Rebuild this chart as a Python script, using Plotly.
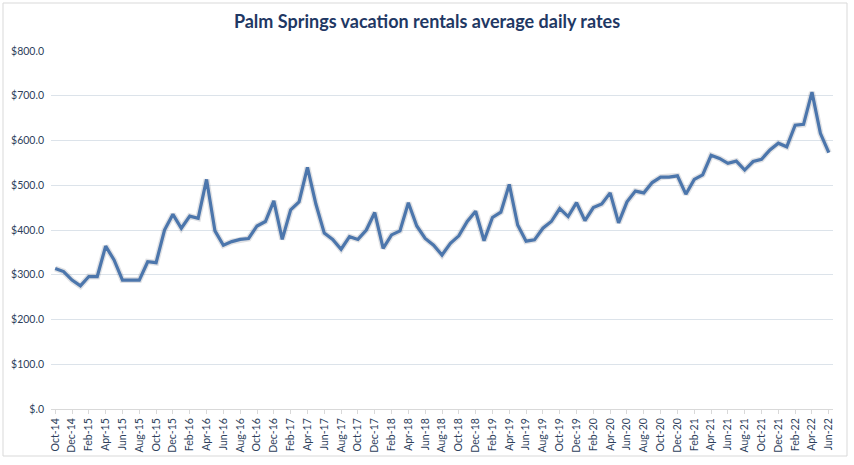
import plotly.graph_objects as go

months = [
    "Oct-14", "Nov-14", "Dec-14",
    "Jan-15", "Feb-15", "Mar-15", "Apr-15", "May-15", "Jun-15", "Jul-15", "Aug-15", "Sep-15", "Oct-15", "Nov-15", "Dec-15",
    "Jan-16", "Feb-16", "Mar-16", "Apr-16", "May-16", "Jun-16", "Jul-16", "Aug-16", "Sep-16", "Oct-16", "Nov-16", "Dec-16",
    "Jan-17", "Feb-17", "Mar-17", "Apr-17", "May-17", "Jun-17", "Jul-17", "Aug-17", "Sep-17", "Oct-17", "Nov-17", "Dec-17",
    "Jan-18", "Feb-18", "Mar-18", "Apr-18", "May-18", "Jun-18", "Jul-18", "Aug-18", "Sep-18", "Oct-18", "Nov-18", "Dec-18",
    "Jan-19", "Feb-19", "Mar-19", "Apr-19", "May-19", "Jun-19", "Jul-19", "Aug-19", "Sep-19", "Oct-19", "Nov-19", "Dec-19",
    "Jan-20", "Feb-20", "Mar-20", "Apr-20", "May-20", "Jun-20", "Jul-20", "Aug-20", "Sep-20", "Oct-20", "Nov-20", "Dec-20",
    "Jan-21", "Feb-21", "Mar-21", "Apr-21", "May-21", "Jun-21", "Jul-21", "Aug-21", "Sep-21", "Oct-21", "Nov-21", "Dec-21",
    "Jan-22", "Feb-22", "Mar-22", "Apr-22", "May-22", "Jun-22",
]

rates = [
    314, 307, 288,
    275, 296, 296, 364, 333, 288, 288, 288, 329, 327, 400, 435,
    404, 431, 426, 513, 398, 366, 374, 379, 381, 409, 419, 465,
    379, 445, 463, 540, 458, 393, 379, 357, 385, 379, 400, 439,
    359, 389, 398, 461, 409, 381, 366, 344, 370, 387, 419, 442,
    376, 428, 440, 502, 411, 375, 378, 404, 419, 448, 430, 461,
    421, 450, 458, 483, 416, 463, 487, 483, 506, 518, 518, 521,
    480, 513, 523, 567, 560, 549, 554, 534, 553, 558, 579, 594,
    586, 634, 636, 708, 616, 573,
]

x_tick_labels = months[::2]

y_tick_values = [0, 100, 200, 300, 400, 500, 600, 700, 800]
y_tick_labels = ["$.0", "$100.0", "$200.0", "$300.0", "$400.0", "$500.0", "$600.0", "$700.0", "$800.0"]

title_text = "Palm Springs vacation rentals average daily rates"

fig = go.Figure()
# soft shadow under the line
fig.add_trace(go.Scatter(
    x=months, y=rates, mode="lines",
    line=dict(color="rgba(60,70,90,0.16)", width=6),
    hoverinfo="skip", showlegend=False,
))
fig.add_trace(go.Scatter(
    x=months, y=rates, mode="lines",
    line=dict(color="#4C76AC", width=3.2),
    showlegend=False,
))

fig.update_layout(
    width=854, height=465,
    margin=dict(l=51, r=21, t=51, b=56),
    paper_bgcolor="white", plot_bgcolor="white",
    title=dict(
        text="<b>" + title_text + "</b>",
        x=0.5, xref="container", xanchor="center",
        y=0.953, yref="container", yanchor="middle",
        font=dict(family="Lato, Open Sans, sans-serif", size=18, color="#1F3864"),
    ),
    font=dict(family="Lato, Open Sans, sans-serif"),
)

fig.update_xaxes(
    type="category",
    categoryorder="array", categoryarray=months,
    range=[-0.5, len(months) - 0.5],
    tickmode="array", tickvals=x_tick_labels, ticktext=x_tick_labels,
    tickangle=-90,
    tickfont=dict(size=10.5, color="#2E3F5C"),
    showgrid=False,
    showline=True, linecolor="#D9D9D9", linewidth=1,
    ticks="outside", ticklen=4, tickcolor="#D9D9D9",
    zeroline=False,
)

fig.update_yaxes(
    range=[0, 800],
    tickmode="array", tickvals=y_tick_values, ticktext=y_tick_labels,
    tickfont=dict(size=10.5, color="#2E3F5C"),
    showgrid=True, gridcolor="#DCE3EA", gridwidth=1,
    zeroline=False, showline=False,
    ticks="", ticklabelstandoff=6,
)

# outer chart border
fig.add_shape(
    type="rect", xref="paper", yref="paper",
    x0=(3 - 51) / 782, x1=(847 - 51) / 782,
    y0=(409 - 456) / 358, y1=(409 - 3) / 358,
    line=dict(color="#D9D9D9", width=1), fillcolor="rgba(0,0,0,0)",
    layer="below",
)

fig.write_html(
    "out.html",
    config={"displayModeBar": False},
    post_script="document.body.style.margin='0';",
)
